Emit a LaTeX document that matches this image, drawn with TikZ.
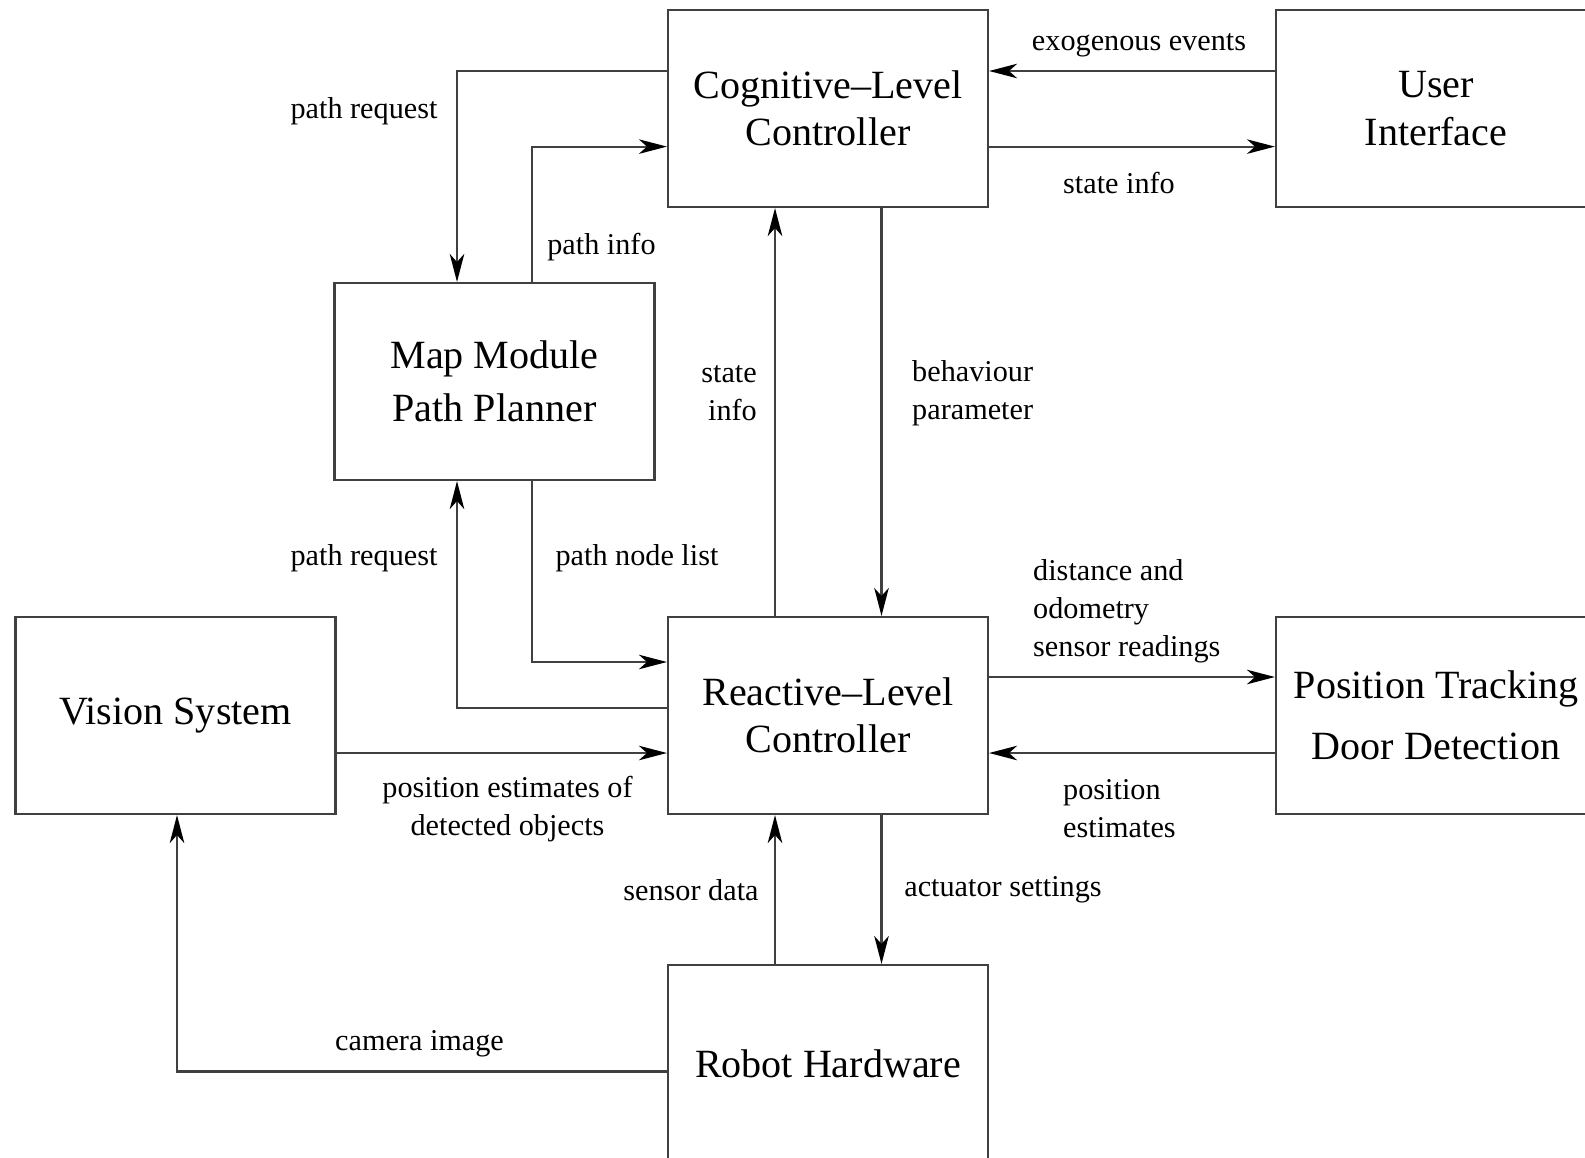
\documentclass[tikz,border=0pt]{standalone}
\usepackage{fontspec}
\setmainfont{Liberation Serif}
\usetikzlibrary{arrows.meta}

\begin{document}
\begin{tikzpicture}[
    every node/.style={font=\fontsize{8.6}{10.8}\selectfont},
    bx/.style={rectangle, draw=black!75, line width=0.6pt, minimum width=3.2cm,
               minimum height=1.97cm, inner sep=0pt, align=center,
               font=\fontsize{11.4}{13.5}\selectfont},
    e/.style={-{Stealth[length=2.8mm, width=1.45mm, inset=0.8mm, black]}, draw=black!75,
              line width=0.6pt},
    lbl/.style={inner sep=1pt},
  ]
  \useasboundingbox (0,0) rectangle (15.85,-11.57);
  \node[bx] (cog) at (8.28,-1.085) {Cognitive--Level\\Controller};
  \node[bx] (ui) at (14.36,-1.085) {User\\Interface};
  \node[bx] (map) at (4.945,-3.815) {Map Module\\[1.5pt]Path Planner};
  \node[bx] (vis) at (1.755,-7.155) {Vision System};
  \node[bx] (rea) at (8.28,-7.155) {Reactive--Level\\Controller};
  \node[bx] (pt) at (14.36,-7.155) {Position Tracking\\[4pt]Door Detection};
  \node[bx] (rob) at (8.28,-10.635) {Robot Hardware};
  \coordinate (c1) at (4.57,-0.71);
  \coordinate (c2) at (5.32,-1.466);
  \coordinate (c3) at (4.57,-7.076);
  \coordinate (c4) at (5.32,-6.62);
  \coordinate (c5) at (1.77,-10.715);
  \coordinate (xl) at (7.75,0);
  \coordinate (xr) at (8.815,0);
  \coordinate (yu) at (0,-0.71);
  \coordinate (yl) at (0,-1.466);
  \coordinate (ya) at (0,-6.77);
  \coordinate (yb) at (0,-7.53);
  \draw[e] (c1 -| cog.west) -- (c1) -- (map.north -| c1);
  \draw[e] (map.north -| c2) -- (c2) -- (c2 -| cog.west);
  \draw[e] (ui.west |- yu) -- (cog.east |- yu);
  \draw[e] (cog.east |- yl) -- (ui.west |- yl);
  \draw[e] (rea.north -| xl) -- (cog.south -| xl);
  \draw[e] (cog.south -| xr) -- (rea.north -| xr);
  \draw[e] (c3 -| rea.west) -- (c3) -- (map.south -| c3);
  \draw[e] (map.south -| c4) -- (c4) -- (c4 -| rea.west);
  \draw[e] (rea.east |- ya) -- (pt.west |- ya);
  \draw[e] (pt.west |- yb) -- (rea.east |- yb);
  \draw[e] (vis.east |- yb) -- (rea.west |- yb);
  \draw[e] (rob.north -| xl) -- (rea.south -| xl);
  \draw[e] (rea.south -| xr) -- (rob.north -| xr);
  \draw[e] (c5 -| rob.west) -- (c5) -- (vis.south -| c5);
  \node[lbl] (l1) at (3.64,-1.11) {path request};
  \node[lbl] (l2) at (6.015,-2.47) {path info};
  \node[lbl] (l3) at (11.39,-0.45) {exogenous events};
  \node[lbl] (l4) at (11.19,-1.83) {state info};
  \node[lbl, anchor=east, align=right] (l5) at (7.61,-3.93) {state\\info};
  \node[lbl, anchor=west, align=left] (l6) at (9.08,-3.93) {behaviour\\parameter};
  \node[lbl] (l7) at (3.64,-5.58) {path request};
  \node[lbl] (l8) at (6.37,-5.58) {path node list};
  \node[lbl, anchor=west, align=left] (l9) at (10.29,-6.11) {distance and\\odometry\\sensor readings};
  \node[lbl, anchor=west, align=left] (l10) at (10.59,-8.09) {position\\estimates};
  \node[lbl, align=center] (l11) at (5.075,-8.09) {position estimates of\\detected objects};
  \node[lbl] (l12) at (6.91,-8.90) {sensor data};
  \node[lbl] (l13) at (10.03,-8.90) {actuator settings};
  \node[lbl] (l14) at (4.195,-10.44) {camera image};
\end{tikzpicture}
\end{document}
